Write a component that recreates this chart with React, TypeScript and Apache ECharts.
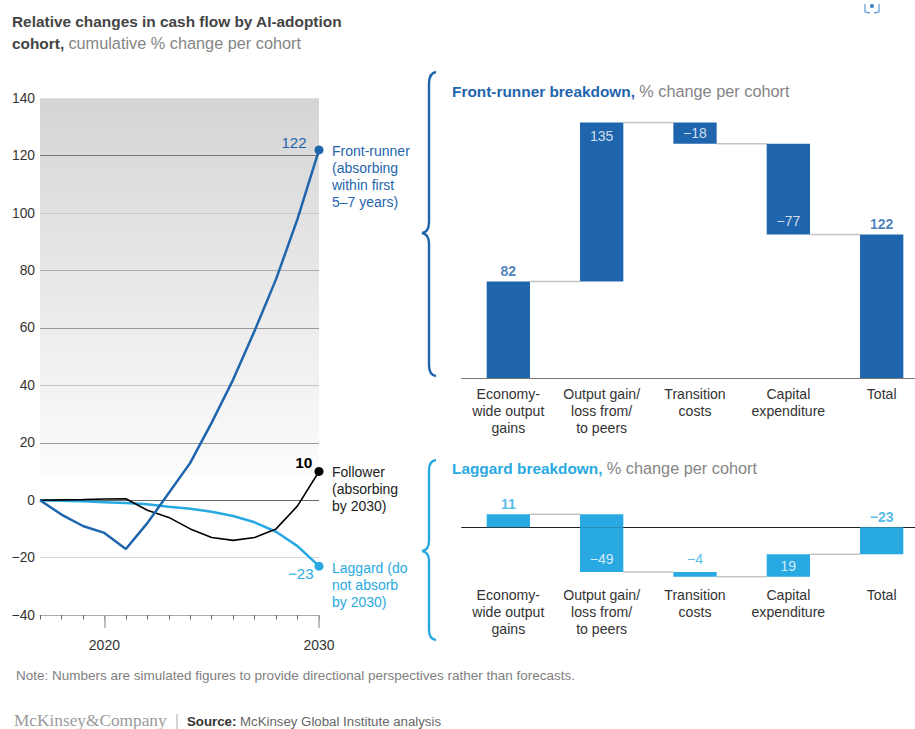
import React, { useEffect, useRef } from "react";
import * as echarts from "echarts";

// Cumulative cash-flow paths per AI-adoption cohort
const years = [2017, 2018, 2019, 2020, 2021, 2022, 2023, 2024, 2025, 2026, 2027, 2028, 2029, 2030];
const frontRunner = [0, -5, -9, -11.4, -17, -8, 2.5, 13, 27, 42, 59, 77, 98, 122];
const follower = [0, 0.1, 0.2, 0.4, 0.5, -3.5, -6, -10, -13, -14, -13, -10, -2, 10];
const laggard = [0, -0.2, -0.4, -0.7, -1, -1.4, -2.3, -3, -4, -5.5, -7.7, -11, -16, -23];

const yTicks = { min: -40, max: 140, step: 20 };
const majorYears = [2020, 2030];

// Waterfall steps; the last entry is the cohort total
const stepLabels = ["Economy-\nwide output\ngains", "Output gain/\nloss from/\nto peers", "Transition\ncosts", "Capital\nexpenditure", "Total"];
const frontRunnerSteps = [82, 135, -18, -77, 122];
const laggardSteps = [11, -49, -4, 19, -23];

const DARK_BLUE = "#1f65ad";
const LIGHT_BLUE = "#29a9e1";
const FONT = '"Liberation Sans", Arial, sans-serif';
const PX_PER_UNIT = 1.177;
const BAR_WIDTH = 43.3;
const fmt = (v: number) => String(v).replace("-", "\u2212");

type Placement = "above" | "insideTop" | "insideBottom" | "center";

// Resolves signed steps into floating bar spans, split across zero for stacking
function resolveSteps(steps: number[]) {
  let run = 0;
  return steps.map((v, i) => {
    const total = i === steps.length - 1;
    const start = total ? 0 : run;
    const end = total ? v : run + v;
    run = end;
    const low = Math.min(start, end);
    const high = Math.max(start, end);
    const crosses = low < 0 && high > 0;
    const base = crosses ? 0 : low >= 0 ? low : high;
    return {
      v, end, low, high, base,
      up: crosses ? high : low >= 0 ? high - low : 0,
      down: crosses ? low : low < 0 ? low - high : 0,
    };
  });
}

function waterfall(gridIndex: number, xLabelAxis: number, steps: number[], color: string, placements: Placement[]) {
  const spans = resolveSteps(steps);
  const shared = { type: "bar" as const, stack: `wf${gridIndex}`, xAxisIndex: xLabelAxis, yAxisIndex: gridIndex, barWidth: BAR_WIDTH, silent: true };
  const labelPos: Record<Placement, string> = { above: "top", insideTop: "bottom", insideBottom: "top", center: "inside" };
  return [
    {
      // Thin links between neighbouring bars, running from one bar edge to the next
      type: "custom" as const,
      xAxisIndex: xLabelAxis,
      yAxisIndex: gridIndex,
      silent: true,
      z: 1,
      encode: { x: 0, y: 1 },
      data: spans.slice(0, -1).map((s, i) => [i, s.end]),
      renderItem: (_params: unknown, api: any) => {
        const i = api.value(0);
        const level = api.value(1);
        const from = api.coord([i, level]);
        const to = api.coord([i + 1, level]);
        return {
          type: "line",
          shape: { x1: from[0] + BAR_WIDTH / 2, y1: from[1], x2: to[0] - BAR_WIDTH / 2, y2: to[1] },
          style: { stroke: "#c4c4c4", lineWidth: 1.5, fill: "none" },
        };
      },
    },
    { ...shared, data: spans.map((s) => s.base), itemStyle: { color: "transparent" } },
    { ...shared, data: spans.map((s) => s.up), itemStyle: { color } },
    { ...shared, data: spans.map((s) => s.down), itemStyle: { color } },
    {
      type: "scatter" as const,
      xAxisIndex: xLabelAxis,
      yAxisIndex: gridIndex,
      symbol: "circle",
      symbolSize: 0,
      silent: true,
      z: 5,
      data: spans.map((s, i) => {
        const p = placements[i];
        const outside = p === "above";
        const y = p === "insideBottom" ? s.low : p === "center" ? (s.low + s.high) / 2 : s.high;
        const strong = outside && s.v !== -4;
        return {
          value: [i, y],
          label: {
            show: true,
            formatter: fmt(s.v),
            position: labelPos[p],
            distance: p === "center" ? 0 : p === "above" ? (strong ? 3.5 : 6) : 6,
            color: outside ? color : "#fff",
            fontFamily: FONT,
            fontSize: 14,
            fontWeight: strong ? "bold" : "normal",
          },
        };
      }),
    },
  ];
}

function cohortLine(name: string, values: number[], color: string, width: number, bold: boolean, size: number, offset: number[]) {
  return {
    type: "line" as const,
    name,
    xAxisIndex: 0,
    yAxisIndex: 0,
    symbol: "none",
    smooth: false,
    silent: true,
    lineStyle: { color, width },
    data: values.map((v, i) =>
      i === values.length - 1
        ? {
            value: [years[i], v],
            symbol: "circle",
            symbolSize: 9,
            itemStyle: { color },
            label: {
              show: true,
              position: "left",
              distance: 6,
              offset,
              formatter: fmt(v),
              color,
              fontFamily: FONT,
              fontSize: size,
              fontWeight: bold ? "bold" : "normal",
            },
          }
        : { value: [years[i], v] }
    ),
  };
}

const text = (x: number, y: number, body: string, fill: string, extra: Record<string, unknown> = {}) => ({
  type: "text" as const,
  x,
  y,
  silent: true,
  style: { text: body, fill, font: `14px ${FONT}`, lineHeight: 16.8, ...extra },
});

function heading(x: number, y: number, lead: string, rest: string, color: string) {
  return {
    type: "text" as const,
    x,
    y,
    silent: true,
    style: {
      text: rest ? `{a|${lead}}{b|${rest}}` : `{a|${lead}}`,
      verticalAlign: "middle",
      rich: {
        a: { font: `bold 15.4px ${FONT}`, fill: color },
        b: { font: `16.3px ${FONT}`, fill: "#858585" },
      },
    },
  };
}

function stepAxes(gridIndex: number, baselineColor: string, labelMargin: number) {
  const data = stepLabels;
  return [
    {
      type: "category" as const,
      gridIndex,
      data,
      position: "bottom",
      axisLine: { show: false, onZero: false },
      axisTick: { show: false },
      axisLabel: { color: "#333", fontFamily: FONT, fontSize: 14.1, lineHeight: 17, margin: labelMargin, interval: 0 },
    },
    {
      type: "category" as const,
      gridIndex,
      data,
      position: "bottom",
      axisLine: { show: true, onZero: true, lineStyle: { color: baselineColor, width: 1.2 } },
      axisTick: { show: false },
      axisLabel: { show: false },
    },
  ];
}

const hiddenY = (gridIndex: number, min: number, max: number) => ({
  type: "value" as const,
  gridIndex,
  min,
  max,
  show: false,
  splitLine: { show: false },
});

const BRACE_TOP = "M436 72 Q429 73 429 84 L429 222 Q429 232 422 233 Q429 234 429 244 L429 365 Q429 375 436 376";
const BRACE_BOTTOM = "M436 460 Q429 461 429 470 L429 541 Q429 550 422 551 Q429 552 429 561 L429 630 Q429 639 436 640";

export default function App() {
  const ref = useRef<HTMLDivElement>(null);

  useEffect(() => {
    if (!ref.current) return;
    echarts.graphic.registerShape("braceTop", echarts.graphic.extendPath(BRACE_TOP, {}));
    echarts.graphic.registerShape("braceBottom", echarts.graphic.extendPath(BRACE_BOTTOM, {}));
    const chart = echarts.init(ref.current, undefined, { renderer: "svg" });

    const topMax = 217;
    const lagMax = 11;
    const lagMin = -42;

    chart.setOption({
      animation: false,
      backgroundColor: "#fff",
      grid: [
        {
          left: 40, top: 98.3, width: 279, height: 516.7, show: true, borderWidth: 0,
          backgroundColor: new echarts.graphic.LinearGradient(0, 0, 0, 1, [
            { offset: 0, color: "#d5d5d5" },
            { offset: 0.73, color: "#fcfcfc" },
            { offset: 0.735, color: "#ffffff" },
            { offset: 1, color: "#ffffff" },
          ]),
        },
        { left: 461.67, top: 378 - topMax * PX_PER_UNIT, width: 466.67, height: topMax * PX_PER_UNIT },
        { left: 461.67, top: 527.3 - lagMax * PX_PER_UNIT, width: 466.67, height: (lagMax - lagMin) * PX_PER_UNIT },
      ],
      xAxis: [
        {
          type: "value", gridIndex: 0, min: 2017, max: 2030, interval: 1, position: "bottom",
          axisLine: { show: true, onZero: false, lineStyle: { color: "#aaa", width: 1 } },
          axisTick: { show: true, length: 4.5, lineStyle: { color: "#666", width: 1 } },
          axisLabel: { show: false },
          splitLine: { show: false },
        },
        {
          type: "value", gridIndex: 0, min: 2017, max: 2030, position: "bottom",
          axisLine: { show: false, onZero: false },
          axisTick: { show: true, customValues: majorYears, length: 13, lineStyle: { color: "#aaa", width: 1.5 } },
          axisLabel: {
            show: true, customValues: majorYears, margin: 23, color: "#333",
            fontFamily: FONT, fontSize: 14, formatter: (v: number) => String(v),
          },
          splitLine: { show: false },
        },
        ...stepAxes(1, "#777", 7),
        ...stepAxes(2, "#222", 10),
      ],
      yAxis: [
        {
          type: "value", gridIndex: 0, min: yTicks.min, max: yTicks.max, interval: yTicks.step,
          axisLine: { show: false },
          axisTick: { show: false },
          axisLabel: { color: "#333", fontFamily: FONT, fontSize: 13.8, margin: 5, formatter: (v: number) => fmt(v) },
          splitLine: {
            show: true,
            lineStyle: {
              width: 1,
              color: ["#aaaaaa", "#d8d8d8", "#666666", "#999999", "#c4c4c4", "#999999", "#aaaaaa", "#c8c8c8", "#777777", "#e0e0e0"],
            },
          },
        },
        hiddenY(1, 0, topMax),
        hiddenY(2, lagMin, lagMax),
      ],
      series: [
        cohortLine("Laggard", laggard, LIGHT_BLUE, 2.5, false, 15, [5, 7]),
        cohortLine("Follower", follower, "#000", 1.6, true, 15.5, [4, -9]),
        cohortLine("Front-runner", frontRunner, DARK_BLUE, 2.5, false, 15, [-2, -7]),
        ...waterfall(1, 2, frontRunnerSteps, DARK_BLUE, ["above", "insideTop", "center", "insideBottom", "above"]),
        ...waterfall(2, 4, laggardSteps, LIGHT_BLUE, ["above", "insideBottom", "above", "center", "above"]),
      ],
      graphic: [
        heading(12, 21, "Relative changes in cash flow by AI-adoption", "", "#444"),
        heading(12, 43, "cohort, ", "cumulative % change per cohort", "#444"),
        heading(452, 91, "Front-runner breakdown, ", "% change per cohort", DARK_BLUE),
        heading(452, 468, "Laggard breakdown, ", "% change per cohort", LIGHT_BLUE),
        text(332, 143, "Front-runner\n(absorbing\nwithin first\n5\u20137 years)", DARK_BLUE),
        text(332, 464, "Follower\n(absorbing\nby 2030)", "#222"),
        text(332, 560, "Laggard (do\nnot absorb\nby 2030)", LIGHT_BLUE),
        { type: "braceTop", x: 0, y: 0, silent: true, style: { fill: "none", stroke: DARK_BLUE, lineWidth: 2.4 } },
        { type: "braceBottom", x: 0, y: 0, silent: true, style: { fill: "none", stroke: LIGHT_BLUE, lineWidth: 2.4 } },
        text(16, 675, "Note: Numbers are simulated figures to provide directional perspectives rather than forecasts.", "#808080", { font: `13.5px ${FONT}`, verticalAlign: "middle" }),
        text(14, 720, "McKinsey&Company", "#9a9a9a", { font: `17.3px "Liberation Serif", serif`, verticalAlign: "middle", lineHeight: 17 }),
        { type: "line", silent: true, shape: { x1: 177, y1: 714, x2: 177, y2: 729 }, style: { stroke: "#aaa", lineWidth: 1 } },
        {
          type: "text", x: 187, y: 721, silent: true,
          style: {
            text: "{a|Source: }{b|McKinsey Global Institute analysis}",
            verticalAlign: "middle",
            rich: {
              a: { font: `bold 13.25px ${FONT}`, fill: "#333" },
              b: { font: `13.25px ${FONT}`, fill: "#666" },
            },
          },
        },
        { type: "circle", silent: true, shape: { cx: 872, cy: 6, r: 2 }, style: { fill: "#3d7fc4" } },
        { type: "polyline", silent: true, shape: { points: [[865, 4], [865, 12], [870, 13]] }, style: { fill: "none", stroke: "#6ba3da", lineWidth: 1.3 } },
        { type: "polyline", silent: true, shape: { points: [[879, 4], [879, 12], [874, 13]] }, style: { fill: "none", stroke: "#6ba3da", lineWidth: 1.3 } },
      ],
    });

    return () => chart.dispose();
  }, []);

  // The drawing surface runs a little past the page edge so the last waterfall band keeps its full width
  return (
    <div style={{ position: "fixed", left: 0, top: 0, width: 915, height: 729, overflow: "hidden" }}>
      <div ref={ref} style={{ width: 930, height: 729 }} />
    </div>
  );
}
